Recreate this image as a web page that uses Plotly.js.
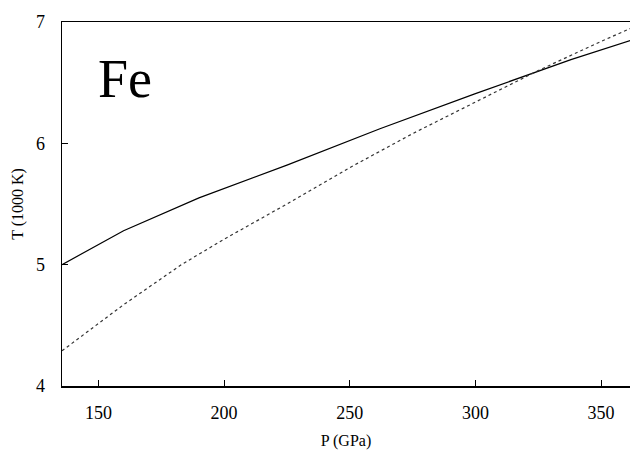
<!DOCTYPE html>
<html>
<head>
<meta charset="utf-8">
<script src="https://cdn.plot.ly/plotly-3.0.1.min.js"></script>
<style>html,body{margin:0;padding:0;background:#fff;}#chart{width:630px;height:450px;}</style>
</head>
<body>
<div id="chart"></div>
<script>
const solidP = [135.5, 160, 190, 225, 262, 300, 338, 362];
const solidT = [5.0, 5.28, 5.55, 5.82, 6.12, 6.41, 6.69, 6.85];
const dotP = [135.5, 160, 183, 200, 225, 250, 275, 300, 325, 350, 362];
const dotT = [4.29, 4.67, 5.0, 5.21, 5.50, 5.80, 6.08, 6.34, 6.60, 6.84, 6.95];
const xTicks = [150, 200, 250, 300, 350];
const yTicks = [4, 5, 6, 7];
const label = "Fe";

const FAM = "Times New Roman";

const data = [
  {x: solidP, y: solidT, mode: "lines", line: {color: "#000", width: 1.2}, hoverinfo: "skip"},
  {x: dotP, y: dotT, mode: "lines", line: {color: "#333", width: 1.2, dash: "dot"}, hoverinfo: "skip"}
];

const layout = {
  width: 630, height: 450,
  margin: {l: 62, r: 0, t: 22, b: 64},
  paper_bgcolor: "#fff", plot_bgcolor: "#fff",
  showlegend: false,
  font: {family: FAM, size: 18, color: "#000"},
  xaxis: {
    range: [135.5, 361.5], tickvals: xTicks, ticks: "inside", ticklen: 6, tickcolor: "#000",
    showline: true, linecolor: "#000", linewidth: 1.5, mirror: true, showgrid: false, zeroline: false,
    ticklabelstandoff: 10,
    tickfont: {family: FAM, size: 18, color: "#000"},
    title: {text: "P (GPa)", font: {family: FAM, size: 16, color: "#000"}, standoff: 12}
  },
  yaxis: {
    range: [4, 7], tickvals: yTicks, ticks: "inside", ticklen: 6, tickcolor: "#000",
    showline: true, linecolor: "#000", linewidth: 1.5, mirror: false, showgrid: false, zeroline: false,
    ticklabelstandoff: 12,
    tickfont: {family: FAM, size: 18, color: "#000"},
    title: {text: "T (1000 K)", font: {family: FAM, size: 16, color: "#000"}, standoff: 8}
  },
  annotations: [{
    text: label, xref: "paper", yref: "paper", x: 0.06, y: 0.93, xanchor: "left", yanchor: "top",
    showarrow: false, font: {family: FAM, size: 54, color: "#000"}
  }]
};

Plotly.newPlot("chart", data, layout, {displayModeBar: false, staticPlot: true});
</script>
</body>
</html>
